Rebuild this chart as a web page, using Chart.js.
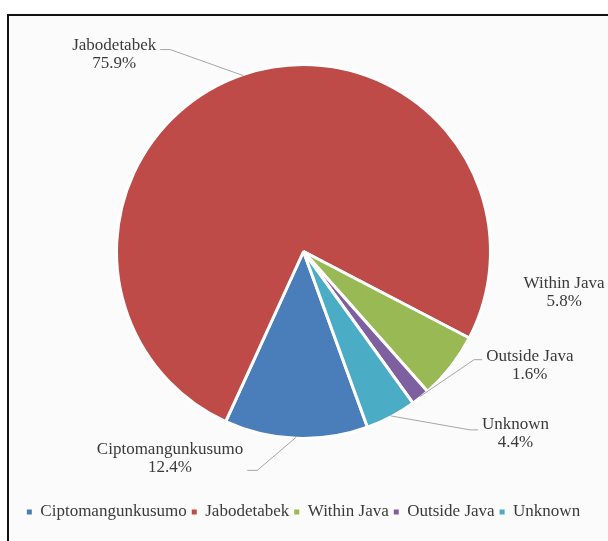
<!DOCTYPE html>
<html lang="en">
<head>
  <meta charset="UTF-8" />
  <title>Origin of patients</title>
  <script src="https://cdn.jsdelivr.net/npm/chart.js"></script>
  <style>
    html, body {
      margin: 0;
      padding: 0;
      background: #ffffff;
      overflow: hidden;
    }
    .frame {
      position: absolute;
      left: 7px;
      top: 14px;
      width: 700px;
      height: 700px;
      border: 2px solid #111;
      background: #fbfbfb;
    }
    .wrap {
      position: absolute;
      left: 0;
      top: 0;
      width: 608px;
      height: 541px;
    }
  </style>
</head>
<body>
  <div class="frame"></div>
  <div class="wrap"><canvas id="pie" width="608" height="541"></canvas></div>

  <script>
    // data
    const categories = ['Ciptomangunkusumo', 'Jabodetabek', 'Within Java', 'Outside Java', 'Unknown'];
    const shares = [12.4, 75.9, 5.8, 1.6, 4.4];
    const colors = ['#4a7ebb', '#be4b48', '#98b954', '#7d60a0', '#4aacc5'];

    // label placement: offset of the text block from the slice edge, and where the leader meets the text
    const labelOffsets = [[-126, 21], [-129, -21], [114, -73], [110, -31], [125, 18]];
    const leaderDy = [12, -5, null, -6, -4];

    const FONT = "'Liberation Serif', 'Times New Roman', serif";

    const sliceLabels = {
      id: 'sliceLabels',
      afterDatasetsDraw(chart) {
        const ctx = chart.ctx;
        const meta = chart.getDatasetMeta(0);
        ctx.save();
        ctx.font = '17px ' + FONT;
        ctx.textAlign = 'center';
        ctx.textBaseline = 'middle';
        meta.data.forEach((arc, i) => {
          const p = arc.getProps(['x', 'y', 'startAngle', 'endAngle', 'outerRadius'], true);
          const mid = (p.startAngle + p.endAngle) / 2;
          const r = p.outerRadius - 1;
          const ex = p.x + Math.cos(mid) * r;
          const ey = p.y + Math.sin(mid) * r;
          const cx = ex + labelOffsets[i][0];
          const cy = ey + labelOffsets[i][1];
          const name = categories[i];
          const pct = shares[i].toFixed(1) + '%';
          const w = ctx.measureText(name).width;

          if (leaderDy[i] !== null) {
            const left = labelOffsets[i][0] < 0;
            const ax = left ? cx + w / 2 + 4 : cx - w / 2 - 4;
            const ay = cy + leaderDy[i];
            const bx = left ? ax + 10 : ax - 8;
            ctx.strokeStyle = '#a6a6a6';
            ctx.lineWidth = 1;
            ctx.beginPath();
            ctx.moveTo(ex, ey);
            ctx.lineTo(bx, ay);
            ctx.lineTo(ax, ay);
            ctx.stroke();
          }

          ctx.fillStyle = '#3a3a3a';
          ctx.fillText(name, cx, cy - 9);
          ctx.fillText(pct, cx, cy + 9);
        });
        ctx.restore();
      }
    };

    new Chart(document.getElementById('pie'), {
      type: 'pie',
      data: {
        labels: categories,
        datasets: [{
          data: shares,
          backgroundColor: colors,
          borderColor: '#ffffff',
          borderWidth: 3,
          radius: 187
        }]
      },
      options: {
        responsive: false,
        animation: false,
        rotation: 160,
        layout: {
          padding: { top: 4.5, bottom: 10.5, left: 0, right: 1 }
        },
        plugins: {
          legend: {
            position: 'bottom',
            labels: {
              boxWidth: 5,
              boxHeight: 5,
              padding: 5,
              color: '#3a3a3a',
              font: { family: FONT, size: 17 },
              generateLabels(chart) {
                // small solid squares, no white outline
                const items = Chart.overrides.pie.plugins.legend.labels.generateLabels(chart);
                items.forEach(it => {
                  it.lineWidth = 0;
                  it.strokeStyle = it.fillStyle;
                });
                return items;
              }
            }
          },
          tooltip: { enabled: false }
        }
      },
      plugins: [sliceLabels]
    });
  </script>
</body>
</html>
